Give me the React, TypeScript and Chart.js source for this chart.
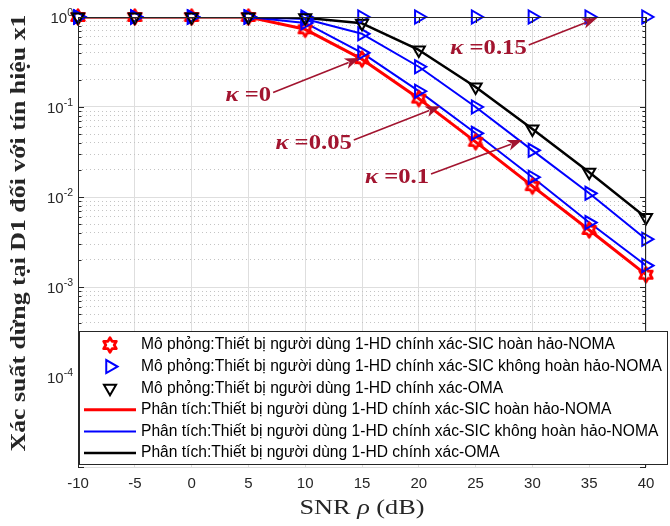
import React, { useEffect, useRef } from 'react';
import { Chart, registerables } from 'chart.js';

Chart.register(...registerables);

// ---------------- data ----------------
const snrDb = [-10, -5, 0, 5, 10, 15, 20, 25, 30, 35, 40];
const perfectNoma = [1, 1, 1, 1, 0.73, 0.34, 0.124, 0.041, 0.0132, 0.0043, 0.00137];
const imperfectK005 = [1, 1, 1, 1, 0.86, 0.4, 0.15, 0.051, 0.0166, 0.0052, 0.00173];
const imperfectK01 = [1, 1, 1, 1, 0.95, 0.65, 0.28, 0.1, 0.033, 0.011, 0.0034];
const imperfectK015 = [1, 1, 1, 1, 1, 1, 1, 1, 1, 1, 1];
const omaValues = [1, 1, 1, 1, 0.98, 0.85, 0.43, 0.167, 0.057, 0.0188, 0.0059];

const xTickValues = [-10, -5, 0, 5, 10, 15, 20, 25, 30, 35, 40];
const yDecadeExps = [-5, -4, -3, -2, -1, 0];
const yLabeledExps = [-4, -3, -2, -1, 0];

const legendLabels = [
  'Mô phỏng:Thiết bị người dùng 1-HD chính xác-SIC hoàn hảo-NOMA',
  'Mô phỏng:Thiết bị người dùng 1-HD chính xác-SIC không hoàn hảo-NOMA',
  'Mô phỏng:Thiết bị người dùng 1-HD chính xác-OMA',
  'Phân tích:Thiết bị người dùng 1-HD chính xác-SIC hoàn hảo-NOMA',
  'Phân tích:Thiết bị người dùng 1-HD chính xác-SIC không hoàn hảo-NOMA',
  'Phân tích:Thiết bị người dùng 1-HD chính xác-OMA',
];
const yAxisTitle = 'Xác suất dừng tại D1 đối với tín hiệu x1';
const xAxisTitleParts = ['SNR ', 'ρ', ' (dB)'];

// annotations (data coordinates): label value, text right/middle anchor, arrow tip
const kappaValues = ['0', '0.05', '0.1', '0.15'];
const kappaTextAnchor = [
  [7.0, 0.1377],
  [14.1, 0.0409],
  [20.9, 0.0171],
  [29.5, 0.464],
];
const kappaArrowTip = [
  [14.8, 0.35],
  [21.9, 0.102],
  [29.1, 0.043],
  [35.7, 0.975],
];

// ---------------- styles ----------------
const RED = '#ff0000';
const BLUE = '#0000ff';
const BLACK = '#000000';
const AXIS = '#262626';
const ANNOT = '#A2142F';
const SANS = '"Liberation Sans", Arial, sans-serif';
const SERIF = '"Liberation Serif", "Times New Roman", serif';

function makeHexagram(color: string): HTMLCanvasElement {
  const c = document.createElement('canvas');
  c.width = 20;
  c.height = 20;
  const g = c.getContext('2d')!;
  const R = 7.3;
  const r = R / Math.sqrt(3);
  g.beginPath();
  for (let k = 0; k < 12; k++) {
    const a = -Math.PI / 2 + (k * Math.PI) / 6;
    const rr = k % 2 === 0 ? R : r;
    const x = 10 + rr * Math.cos(a);
    const y = 10 + rr * Math.sin(a);
    if (k === 0) g.moveTo(x, y);
    else g.lineTo(x, y);
  }
  g.closePath();
  g.strokeStyle = color;
  g.lineWidth = 2.8;
  g.lineJoin = 'round';
  g.stroke();
  return c;
}

function triPath(ctx: CanvasRenderingContext2D, x: number, y: number, r: number, rotDeg: number) {
  let rad = (rotDeg * Math.PI) / 180;
  ctx.beginPath();
  for (let i = 0; i < 3; i++) {
    const px = x + Math.sin(rad) * r;
    const py = y - Math.cos(rad) * r;
    if (i === 0) ctx.moveTo(px, py);
    else ctx.lineTo(px, py);
    rad += (2 * Math.PI) / 3;
  }
  ctx.closePath();
}

// draw text made of parts (different fonts), stretched horizontally by sx, left edge at x
function drawParts(ctx: CanvasRenderingContext2D, parts: string[], fonts: string[], x: number, y: number, sx: number) {
  ctx.save();
  ctx.translate(x, y);
  ctx.scale(sx, 1);
  ctx.textAlign = 'left';
  ctx.textBaseline = 'middle';
  let cx = 0;
  parts.forEach((p, i) => {
    ctx.font = fonts[i];
    ctx.fillText(p, cx, 0);
    cx += ctx.measureText(p).width;
  });
  ctx.restore();
}
function partsWidth(ctx: CanvasRenderingContext2D, parts: string[], fonts: string[]) {
  let w = 0;
  parts.forEach((p, i) => {
    ctx.font = fonts[i];
    w += ctx.measureText(p).width;
  });
  return w;
}

const isDecade = (v: number) => Math.abs(Math.log10(v) - Math.round(Math.log10(v))) < 1e-9;

const pts = (arr: number[]) => snrDb.map((x, i) => ({ x, y: arr[i] }));

export default function App() {
  const canvasRef = useRef<HTMLCanvasElement | null>(null);

  useEffect(() => {
    document.body.style.margin = '0';
    const canvas = canvasRef.current;
    if (!canvas) return;
    const hex = makeHexagram(RED);

    const decor = {
      id: 'matlabDecor',
      afterDatasetsDraw(chart: any) {
        const ctx: CanvasRenderingContext2D = chart.ctx;
        const { left, right, top, bottom } = chart.chartArea;
        const xs = chart.scales.x;
        const ys = chart.scales.y;
        ctx.save();
        // box
        ctx.strokeStyle = AXIS;
        ctx.lineWidth = 1;
        ctx.beginPath();
        ctx.moveTo(left + 0.5, bottom);
        ctx.lineTo(left + 0.5, top + 0.5);
        ctx.lineTo(right - 0.5, top + 0.5);
        ctx.lineTo(right - 0.5, bottom);
        ctx.stroke();
        // inner ticks
        ctx.beginPath();
        ys.ticks.forEach((t: any) => {
          const y = Math.round(ys.getPixelForValue(t.value)) + 0.5;
          const len = isDecade(t.value) ? 6 : 3.5;
          ctx.moveTo(left, y);
          ctx.lineTo(left + len, y);
          ctx.moveTo(right, y);
          ctx.lineTo(right - len, y);
        });
        xs.ticks.forEach((t: any) => {
          const x = Math.round(xs.getPixelForValue(t.value)) + 0.5;
          ctx.moveTo(x, top);
          ctx.lineTo(x, top + 6);
        });
        ctx.stroke();

        // annotations
        ctx.fillStyle = ANNOT;
        ctx.strokeStyle = ANNOT;
        const kFonts = [`italic bold 22px ${SERIF}`, `bold 22px ${SERIF}`];
        const kStretch = 1.12;
        kappaValues.forEach((val, i) => {
          const tx = xs.getPixelForValue(kappaTextAnchor[i][0]);
          const ty = ys.getPixelForValue(kappaTextAnchor[i][1]);
          const parts = ['κ', ' =' + val];
          const w = partsWidth(ctx, parts, kFonts) * kStretch;
          drawParts(ctx, parts, kFonts, tx - w, ty + 1, kStretch);

          const sx = tx + 2;
          const sy = ty - 2;
          const ex = xs.getPixelForValue(kappaArrowTip[i][0]);
          const ey = ys.getPixelForValue(kappaArrowTip[i][1]);
          const ang = Math.atan2(ey - sy, ex - sx);
          const hl = 15;
          const hw = 5.5;
          const bx = ex - Math.cos(ang) * hl;
          const by = ey - Math.sin(ang) * hl;
          ctx.lineWidth = 1.6;
          ctx.beginPath();
          ctx.moveTo(sx, sy);
          ctx.lineTo(bx + Math.cos(ang) * 3, by + Math.sin(ang) * 3);
          ctx.stroke();
          ctx.beginPath();
          ctx.moveTo(ex, ey);
          ctx.lineTo(bx - Math.sin(ang) * hw, by + Math.cos(ang) * hw);
          ctx.lineTo(bx + Math.cos(ang) * 4, by + Math.sin(ang) * 4);
          ctx.lineTo(bx + Math.sin(ang) * hw, by - Math.cos(ang) * hw);
          ctx.closePath();
          ctx.fill();
        });
        ctx.restore();
      },
      afterDraw(chart: any) {
        const ctx: CanvasRenderingContext2D = chart.ctx;
        const { left, right } = chart.chartArea;
        const ys = chart.scales.y;
        ctx.save();
        // y tick labels with superscripts
        ctx.fillStyle = AXIS;
        ctx.textBaseline = 'middle';
        ctx.textAlign = 'left';
        yLabeledExps.forEach((e) => {
          const y = ys.getPixelForValue(Math.pow(10, e));
          const sup = e === 0 ? '0' : '-' + Math.abs(e);
          ctx.font = `10.5px ${SANS}`;
          const wSup = ctx.measureText(sup).width;
          ctx.font = `15px ${SANS}`;
          const wBase = ctx.measureText('10').width;
          const xr = left - 5;
          ctx.fillText('10', xr - wSup - wBase, y + 2);
          ctx.font = `10.5px ${SANS}`;
          ctx.fillText(sup, xr - wSup, y - 4);
        });

        // y title (stretched along its direction to the reference length)
        ctx.fillStyle = AXIS;
        const yFont = [`bold 22px ${SERIF}`];
        const yW = partsWidth(ctx, [yAxisTitle], yFont);
        const yTarget = 437;
        ctx.save();
        ctx.translate(19, 233);
        ctx.rotate(-Math.PI / 2);
        drawParts(ctx, [yAxisTitle], yFont, -yTarget / 2, 0, yTarget / yW);
        ctx.restore();

        // x title
        const xFonts = [`22px ${SERIF}`, `italic 22px ${SERIF}`, `22px ${SERIF}`];
        const xW = partsWidth(ctx, xAxisTitleParts, xFonts);
        const xTarget = 125;
        drawParts(ctx, xAxisTitleParts, xFonts, (left + right) / 2 - xTarget / 2, 508, xTarget / xW);

        // legend
        const lx0 = left + 1;
        const lx1 = 668;
        const ly0 = 331;
        const ly1 = 465;
        ctx.fillStyle = '#ffffff';
        ctx.fillRect(lx0, ly0, lx1 - lx0, ly1 - ly0);
        ctx.strokeStyle = AXIS;
        ctx.lineWidth = 1;
        ctx.strokeRect(lx0 + 0.5, ly0 + 0.5, lx1 - lx0 - 1, ly1 - ly0 - 1);
        const rowY = (k: number) => ly0 + 14 + k * 21.6;
        const colors = [RED, BLUE, BLACK, RED, BLUE, BLACK];
        const widthsL = [3, 2, 2.5];
        legendLabels.forEach((lab, k) => {
          const y = rowY(k);
          if (k === 0) {
            ctx.drawImage(hex, 110 - hex.width / 2, y - hex.height / 2);
          } else if (k === 1) {
            ctx.strokeStyle = BLUE;
            ctx.lineWidth = 2;
            triPath(ctx, 110, y, 7.5, 90);
            ctx.stroke();
          } else if (k === 2) {
            ctx.strokeStyle = BLACK;
            ctx.lineWidth = 2;
            triPath(ctx, 110, y, 7, 180);
            ctx.stroke();
          } else {
            ctx.strokeStyle = colors[k];
            ctx.lineWidth = widthsL[k - 3];
            ctx.beginPath();
            ctx.moveTo(84, y);
            ctx.lineTo(136, y);
            ctx.stroke();
          }
          ctx.fillStyle = '#000000';
          ctx.font = `15.6px ${SANS}`;
          ctx.textAlign = 'left';
          ctx.textBaseline = 'middle';
          ctx.fillText(lab, 141, y);
        });
        ctx.restore();
      },
    };

    const markerSet = (data: number[], color: string, style: any, rot: number, radius: number, order: number) => ({
      data: pts(data),
      showLine: false,
      pointStyle: style,
      pointRotation: rot,
      pointRadius: radius,
      pointBorderColor: color,
      pointBackgroundColor: 'rgba(0,0,0,0)',
      pointBorderWidth: 2,
      borderColor: color,
      order,
      clip: false as any,
    });
    const lineSet = (data: number[], color: string, width: number, order: number) => ({
      data: pts(data),
      borderColor: color,
      borderWidth: width,
      pointRadius: 0,
      tension: 0,
      fill: false,
      order,
      borderJoinStyle: 'round' as const,
    });

    const chart = new Chart(canvas, {
      type: 'line',
      data: {
        datasets: [
          markerSet(perfectNoma, RED, hex, 0, 7, 2),
          markerSet(imperfectK005, BLUE, 'triangle', 90, 7.5, 1),
          markerSet(imperfectK01, BLUE, 'triangle', 90, 7.5, 1),
          markerSet(imperfectK015, BLUE, 'triangle', 90, 7.5, 1),
          markerSet(omaValues, BLACK, 'triangle', 180, 7, 0),
          lineSet(perfectNoma, RED, 3, 6),
          lineSet(imperfectK005, BLUE, 2, 5),
          lineSet(imperfectK01, BLUE, 2, 5),
          lineSet(imperfectK015, BLUE, 2, 5),
          lineSet(omaValues, BLACK, 2.5, 4),
        ] as any,
      },
      options: {
        animation: false,
        responsive: false,
        events: [],
        layout: { padding: { left: 0, right: 24, top: 17, bottom: 0 } },
        plugins: { legend: { display: false }, tooltip: { enabled: false } },
        scales: {
          x: {
            type: 'linear',
            min: -10,
            max: 40,
            afterBuildTicks: (s: any) => {
              s.ticks = xTickValues.map((v) => ({ value: v }));
            },
            afterFit: (s: any) => {
              s.height = 59;
            },
            ticks: {
              color: AXIS,
              font: { family: SANS, size: 15 },
              padding: 8,
              maxRotation: 0,
              autoSkip: false,
            },
            grid: { color: '#dedede', lineWidth: 1, drawTicks: false },
            border: { display: false },
          },
          y: {
            type: 'logarithmic',
            min: 1e-5,
            max: 1,
            afterBuildTicks: (s: any) => {
              const t: any[] = [];
              yDecadeExps.forEach((e) => {
                const top = e === 0 ? 1 : 9;
                for (let m = 1; m <= top; m++) t.push({ value: m * Math.pow(10, e), major: m === 1 });
              });
              s.ticks = t;
            },
            afterFit: (s: any) => {
              s.width = 78;
            },
            ticks: { display: false, autoSkip: false },
            grid: {
              drawTicks: false,
              lineWidth: 1,
              color: (c: any) => (c.tick && !isDecade(c.tick.value) ? '#c4c4c4' : '#dedede'),
            },
            border: {
              display: false,
              dash: (c: any) => (c.tick && !isDecade(c.tick.value) ? [1, 3] : []),
            },
          },
        },
      },
      plugins: [decor],
    } as any);

    return () => chart.destroy();
  }, []);

  return (
    <div style={{ width: 670, height: 526 }}>
      <canvas ref={canvasRef} width={670} height={526} style={{ display: 'block' }} />
    </div>
  );
}
